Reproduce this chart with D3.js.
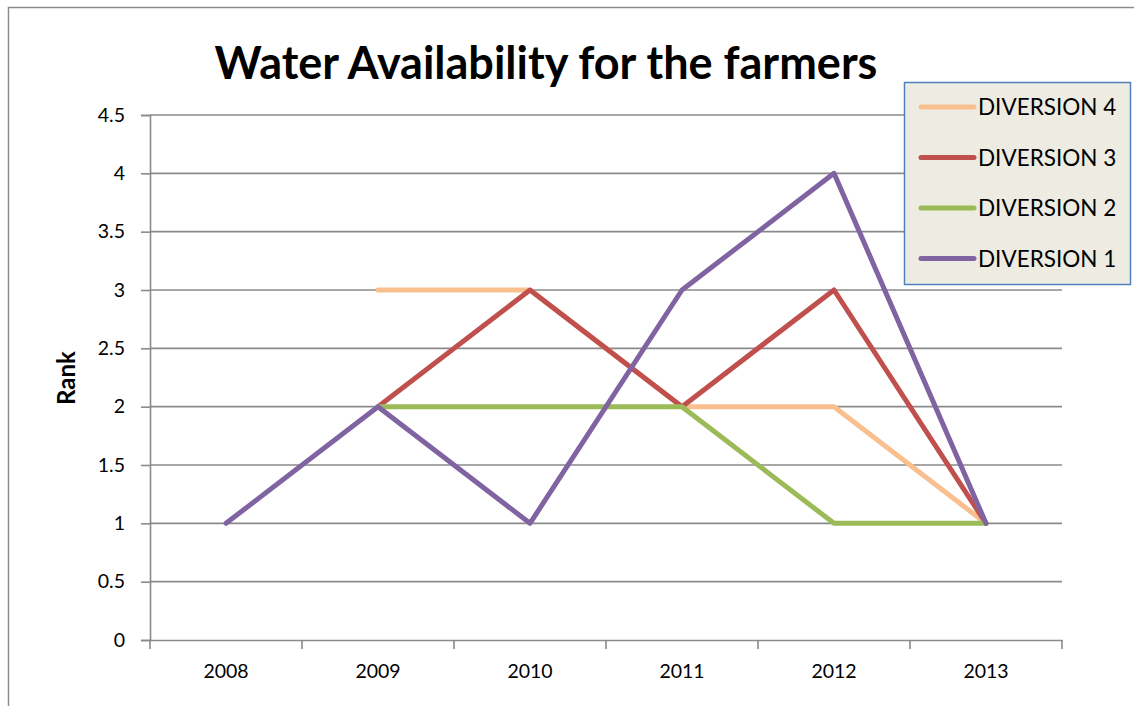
<!DOCTYPE html>
<html>
<head>
<meta charset="utf-8">
<script src="https://cdn.jsdelivr.net/npm/d3@7"></script>
<style>
  html, body { margin: 0; padding: 0; background: #fff; }
  svg { display: block; font-family: Lato, "Open Sans", sans-serif; }
</style>
</head>
<body>
<svg id="chart" width="1134" height="706"></svg>
<script>
// Years on the category axis
const years = ["2008", "2009", "2010", "2011", "2012", "2013"];

// Rank per diversion, by year (null = no value)
const diversion4 = [null, 3, 3, 2, 2, 1];
const diversion3 = [null, 2, 3, 2, 3, 1];
const diversion2 = [null, 2, 2, 2, 1, 1];
const diversion1 = [1, 2, 1, 3, 4, 1];

// Value-axis ticks
const rankTicks = [0, 0.5, 1, 1.5, 2, 2.5, 3, 3.5, 4, 4.5];

// Series in drawing / legend order
const seriesNames = ["DIVERSION 4", "DIVERSION 3", "DIVERSION 2", "DIVERSION 1"];
const seriesValues = [diversion4, diversion3, diversion2, diversion1];
const seriesColors = ["#F9BF8F", "#C0504D", "#9BBB59", "#8064A2"];

const svg = d3.select("#chart");
const plot = { left: 150, right: 1062, top: 115, bottom: 640 };

// Outer chart frame (top and left edges)
svg.append("path")
  .attr("d", "M8.5,706 L8.5,7.5 L1134,7.5")
  .attr("fill", "none").attr("stroke", "#8c8c8c").attr("stroke-width", 1.5);

const x = d3.scaleBand().domain(years).range([plot.left, plot.right]).paddingInner(0).paddingOuter(0);
const y = d3.scaleLinear().domain([0, 4.5]).range([plot.bottom, plot.top]);

// Horizontal gridlines
svg.append("g").selectAll("line").data(rankTicks.filter(d => d > 0)).join("line")
  .attr("x1", plot.left).attr("x2", plot.right)
  .attr("y1", d => y(d)).attr("y2", d => y(d))
  .attr("stroke", "#8a8a8a").attr("stroke-width", 1.6);

// Y axis
const yAxis = d3.axisLeft(y).tickValues(rankTicks).tickSize(9).tickPadding(16)
  .tickFormat(d3.format("~g"));
const gy = svg.append("g").attr("transform", `translate(${plot.left},0)`).call(yAxis);
gy.select(".domain").attr("stroke", "#8a8a8a").attr("stroke-width", 1.6);
gy.selectAll(".tick line").attr("stroke", "#8a8a8a").attr("stroke-width", 1.6);
gy.selectAll(".tick text").attr("font-size", 19.5).attr("fill", "#000")
  .attr("font-family", "Lato, sans-serif");

// X axis: tick marks on category boundaries
const xAxis = d3.axisBottom(x).tickSize(0).tickPadding(24);
const gx = svg.append("g").attr("transform", `translate(0,${plot.bottom})`).call(xAxis);
gx.select(".domain").attr("stroke", "#8a8a8a").attr("stroke-width", 1.6);
gx.selectAll(".tick text").attr("font-size", 19.5).attr("fill", "#000")
  .attr("font-family", "Lato, sans-serif");
const boundaries = years.map(d => x(d)).concat([x(years[years.length - 1]) + x.bandwidth()]);
gx.append("g").selectAll("line").data(boundaries).join("line")
  .attr("x1", d => d).attr("x2", d => d).attr("y1", 0).attr("y2", 9)
  .attr("stroke", "#8a8a8a").attr("stroke-width", 1.6);

// Axis title
svg.append("text")
  .attr("transform", "translate(75,378) rotate(-90)")
  .attr("text-anchor", "middle")
  .attr("font-weight", "bold").attr("font-size", 24).text("Rank");

// Chart title
svg.append("text")
  .attr("x", 546).attr("y", 79).attr("text-anchor", "middle")
  .attr("font-weight", "bold").attr("font-size", 45).text("Water Availability for the farmers");

// Lines
const line = d3.line()
  .defined(d => d.v != null)
  .x(d => x(d.year) + x.bandwidth() / 2)
  .y(d => y(d.v));

svg.append("g").selectAll("path").data(seriesValues.map((vals, i) => ({
    color: seriesColors[i],
    pts: years.map((yr, j) => ({ year: yr, v: vals[j] }))
  }))).join("path")
  .attr("d", d => line(d.pts))
  .attr("fill", "none").attr("stroke", d => d.color)
  .attr("stroke-width", 5).attr("stroke-linejoin", "round").attr("stroke-linecap", "round");

// Legend
const legend = svg.append("g").attr("transform", "translate(904,82)");
legend.append("rect").attr("x", 0.5).attr("y", 0.5).attr("width", 226).attr("height", 202)
  .attr("fill", "#EEECE2").attr("stroke", "#4F81BD").attr("stroke-width", 1.5);
const items = legend.selectAll("g.item").data(seriesNames).join("g")
  .attr("class", "item")
  .attr("transform", (d, i) => `translate(0,${25 + i * 50.5})`);
items.append("line").attr("x1", 17).attr("x2", 70).attr("y1", 0).attr("y2", 0)
  .attr("stroke", (d, i) => seriesColors[i]).attr("stroke-width", 5).attr("stroke-linecap", "round");
items.append("text").attr("x", 74).attr("y", 8).attr("font-size", 22.5).attr("fill", "#000").text(d => d);
</script>
</body>
</html>
